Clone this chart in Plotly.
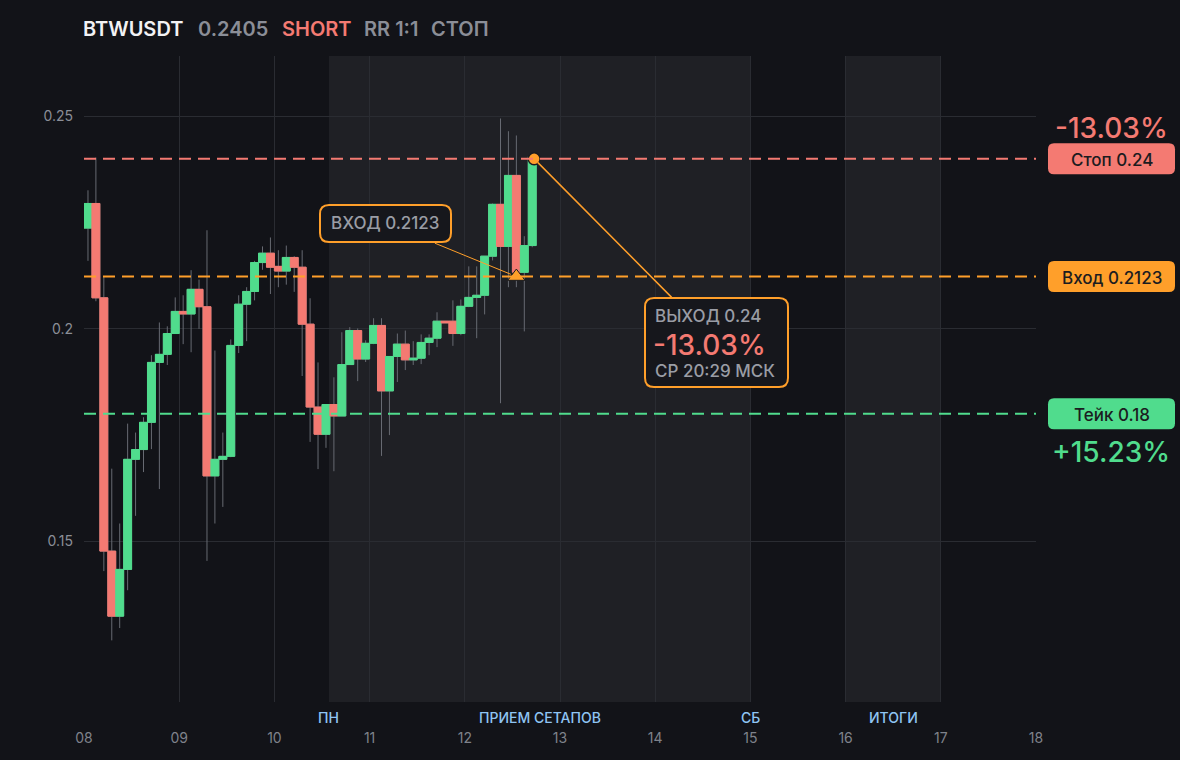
import pandas as pd
import plotly.graph_objects as go

# ---------------- data ----------------
SYMBOL = "BTWUSDT"
LAST_PRICE = "0.2405"
SIDE = "SHORT"
RR_TEXT = "RR 1:1"
RESULT = "СТОП"

# 2-hour candles (centre times), 8 Nov 01:00 UTC onward
candle_times = pd.date_range("2025-11-08 01:00", periods=57, freq="2h")
opens = [0.2237, 0.2295, 0.2073, 0.1477, 0.1324, 0.1434, 0.1693, 0.1716, 0.1780, 0.1921,
         0.1940, 0.1989, 0.2041, 0.2035, 0.2093, 0.2052, 0.1654, 0.1693, 0.1700, 0.1961,
         0.2058, 0.2088, 0.2156, 0.2178, 0.2147, 0.2136, 0.2168, 0.2145, 0.2011, 0.1816,
         0.1752, 0.1822, 0.1795, 0.1916, 0.1996, 0.1929, 0.1966, 0.2008, 0.1854, 0.1935,
         0.1964, 0.1927, 0.1931, 0.1968, 0.1978, 0.2018, 0.2018, 0.1989, 0.2053, 0.2074,
         0.2079, 0.2171, 0.2293, 0.2194, 0.2361, 0.2133, 0.2196]
highs = [0.2326, 0.2403, 0.2122, 0.1671, 0.1542, 0.1777, 0.1756, 0.1792, 0.1938, 0.2015,
         0.2006, 0.2074, 0.2079, 0.2138, 0.2116, 0.2232, 0.1949, 0.1756, 0.1975, 0.2079,
         0.2098, 0.2160, 0.2194, 0.2215, 0.2185, 0.2196, 0.2171, 0.2185, 0.2072, 0.1921,
         0.1822, 0.1886, 0.1992, 0.2004, 0.2001, 0.1973, 0.2025, 0.2025, 0.1935, 0.1989,
         0.1996, 0.1971, 0.1987, 0.1987, 0.2039, 0.2018, 0.2067, 0.2069, 0.2147, 0.2147,
         0.2171, 0.2295, 0.2495, 0.2465, 0.2455, 0.2218, 0.2405]
lows = [0.2160, 0.2065, 0.1430, 0.1267, 0.1296, 0.1385, 0.1560, 0.1663, 0.1717, 0.1623,
        0.1915, 0.1988, 0.1964, 0.1945, 0.2000, 0.1454, 0.1542, 0.1581, 0.1698, 0.1943,
        0.1971, 0.2067, 0.2139, 0.2082, 0.2098, 0.2104, 0.2087, 0.1889, 0.1734, 0.1670,
        0.1720, 0.1665, 0.1795, 0.1915, 0.1877, 0.1922, 0.1964, 0.1701, 0.1750, 0.1875,
        0.1903, 0.1915, 0.1917, 0.1938, 0.1957, 0.2014, 0.1960, 0.1985, 0.2051, 0.1978,
        0.2034, 0.2161, 0.1825, 0.2098, 0.2098, 0.1994, 0.2192]
closes = [0.2295, 0.2073, 0.1477, 0.1324, 0.1434, 0.1693, 0.1716, 0.1780, 0.1921, 0.1940,
          0.1989, 0.2041, 0.2035, 0.2093, 0.2052, 0.1654, 0.1693, 0.1700, 0.1961, 0.2058,
          0.2088, 0.2156, 0.2178, 0.2145, 0.2136, 0.2168, 0.2145, 0.2011, 0.1816, 0.1752,
          0.1822, 0.1795, 0.1916, 0.1996, 0.1929, 0.1966, 0.2008, 0.1854, 0.1935, 0.1964,
          0.1927, 0.1931, 0.1968, 0.1978, 0.2018, 0.2014, 0.1989, 0.2053, 0.2074, 0.2079,
          0.2171, 0.2293, 0.2194, 0.2361, 0.2133, 0.2196, 0.2405]

STOP = 0.24
ENTRY = 0.2123
TAKE = 0.18
STOP_PCT = "-13.03%"
TAKE_PCT = "+15.23%"
ENTRY_TIME = "2025-11-12 13:00"
EXIT_TIME = "2025-11-12 17:29"
EXIT_PRICE = 0.24
EXIT_PCT = "-13.03%"
EXIT_CLOCK = "СР 20:29 МСК"

X_RANGE = ["2025-11-08 00:00", "2025-11-18 00:00"]
Y_RANGE = [0.1122, 0.2642]
Y_TICKS = [0.15, 0.2, 0.25]

SETUP_BAND = ("2025-11-10 13:45", "2025-11-15 00:00")
RESULT_BAND = ("2025-11-16 00:00", "2025-11-17 00:00")
SETUP_START_LABEL = "ПН"
SETUP_LABEL = "ПРИЕМ СЕТАПОВ"
SETUP_END_LABEL = "СБ"
RESULT_LABEL = "ИТОГИ"

# ---------------- style ----------------
W, H = 1180, 760
PL, PR, PT, PB = 84, 1036, 56, 702
BG = "#121318"
BAND = "#1f2025"
GRID = "#2a2c32"
RED = "#f47a72"
GREEN = "#50dc8d"
ORANGE = "#ff9f2a"
GREY = "#8b8e97"
WICK = "#676a72"
LBLUE = "#8fc5f3"
FONT = "Inter"


def px(x):
    return (x - PL) / (PR - PL)


def py(y):
    return (PB - y) / (PB - PT)


def price_to_pix(p):
    return PT + (Y_RANGE[1] - p) / (Y_RANGE[1] - Y_RANGE[0]) * (PB - PT)


def mid(a, b):
    ta, tb = pd.Timestamp(a), pd.Timestamp(b)
    return ta + (tb - ta) / 2


def rounded_rect(x0, y0, x1, y1, r):
    # pixel coordinates (y down) -> paper path
    X0, X1 = px(x0), px(x1)
    Yt, Yb = py(y0), py(y1)
    rx, ry = r / (PR - PL), r / (PB - PT)
    return (f"M {X0+rx},{Yt} L {X1-rx},{Yt} Q {X1},{Yt} {X1},{Yt-ry} "
            f"L {X1},{Yb+ry} Q {X1},{Yb} {X1-rx},{Yb} L {X0+rx},{Yb} "
            f"Q {X0},{Yb} {X0},{Yb+ry} L {X0},{Yt-ry} Q {X0},{Yt} {X0+rx},{Yt} Z")


fig = go.Figure()

body_hi = [max(o, c) for o, c in zip(opens, closes)]
body_lo = [min(o, c) for o, c in zip(opens, closes)]

# wicks (grey)
fig.add_trace(go.Candlestick(
    x=candle_times, open=opens, high=highs, low=lows, close=closes,
    increasing=dict(line=dict(color=WICK, width=1), fillcolor=GREEN),
    decreasing=dict(line=dict(color=WICK, width=1), fillcolor=RED),
    whiskerwidth=0, hoverinfo="skip", showlegend=False,
))
# coloured bodies
fig.add_trace(go.Candlestick(
    x=candle_times, open=opens, high=body_hi, low=body_lo, close=closes,
    increasing=dict(line=dict(color=GREEN, width=1), fillcolor=GREEN),
    decreasing=dict(line=dict(color=RED, width=1), fillcolor=RED),
    whiskerwidth=0, showlegend=False,
))

# entry / exit markers
fig.add_trace(go.Scatter(
    x=[pd.Timestamp(ENTRY_TIME)], y=[ENTRY], mode="markers",
    marker=dict(symbol="triangle-up", size=15, color=ORANGE, line=dict(color="#1a1b20", width=1)),
    showlegend=False, hoverinfo="skip",
))
fig.add_trace(go.Scatter(
    x=[pd.Timestamp(EXIT_TIME)], y=[EXIT_PRICE], mode="markers",
    marker=dict(symbol="circle", size=12, color=ORANGE, line=dict(color="#1a1b20", width=1.5)),
    showlegend=False, hoverinfo="skip",
))

shapes = []
# session bands
for b0, b1 in (SETUP_BAND, RESULT_BAND):
    shapes.append(dict(type="rect", xref="x", yref="paper", x0=b0, x1=b1, y0=0, y1=1,
                       fillcolor=BAND, line=dict(width=0), layer="below"))
# level lines
for lvl, col in ((STOP, RED), (ENTRY, ORANGE), (TAKE, GREEN)):
    shapes.append(dict(type="line", xref="paper", yref="y", x0=0, x1=1, y0=lvl, y1=lvl,
                       line=dict(color=col, width=2, dash="12px,7px"), layer="above"))

# right-side level badges
badge_x0, badge_x1 = 1048, 1175
for lvl, col in ((STOP, RED), (ENTRY, ORANGE), (TAKE, GREEN)):
    cy = price_to_pix(lvl)
    shapes.append(dict(type="path", xref="paper", yref="paper",
                       path=rounded_rect(badge_x0, cy - 15.5, badge_x1, cy + 15.5, 6),
                       fillcolor=col, line=dict(width=0)))

# entry / exit callout boxes
shapes.append(dict(type="path", xref="paper", yref="paper",
                   path=rounded_rect(320, 205, 451, 242, 9),
                   fillcolor="#16171c", line=dict(color=ORANGE, width=2)))
shapes.append(dict(type="path", xref="paper", yref="paper",
                   path=rounded_rect(645, 298, 788, 387, 9),
                   fillcolor="#16171c", line=dict(color=ORANGE, width=2)))

annotations = []
# title row
for xpos, txt, col in ((81, SYMBOL, "#f2f2f4"), (196, LAST_PRICE, GREY), (280, SIDE, RED),
                       (362, RR_TEXT, GREY), (429, RESULT, GREY)):
    annotations.append(dict(xref="paper", yref="paper", x=px(xpos), y=py(29), text=txt,
                            showarrow=False, xanchor="left", yanchor="middle",
                            font=dict(family=FONT, size=20, color=col, weight=600)))

# right badges text
for lvl, txt in ((STOP, f"Стоп {STOP:g}"), (ENTRY, f"Вход {ENTRY:g}"), (TAKE, f"Тейк {TAKE:g}")):
    annotations.append(dict(xref="paper", yref="paper", x=px((badge_x0 + badge_x1) / 2),
                            y=py(price_to_pix(lvl) + 1), text=txt, showarrow=False,
                            xanchor="center", yanchor="middle",
                            font=dict(family=FONT, size=17, color="#1b1c20", weight=500)))
annotations.append(dict(xref="paper", yref="paper", x=px(1111), y=py(price_to_pix(STOP) - 31),
                        text=STOP_PCT, showarrow=False, xanchor="center", yanchor="middle",
                        font=dict(family=FONT, size=28, color=RED, weight=500)))
annotations.append(dict(xref="paper", yref="paper", x=px(1111), y=py(price_to_pix(TAKE) + 38),
                        text=TAKE_PCT, showarrow=False, xanchor="center", yanchor="middle",
                        font=dict(family=FONT, size=28, color=GREEN, weight=500)))

# callout texts
annotations.append(dict(xref="paper", yref="paper", x=px(385.5), y=py(223), text=f"ВХОД {ENTRY:g}",
                        showarrow=False, xanchor="center", yanchor="middle",
                        font=dict(family=FONT, size=17, color="#9a9da5", weight=500)))
annotations.append(dict(xref="paper", yref="paper", x=px(653), y=py(316), text=f"ВЫХОД {EXIT_PRICE:g}",
                        showarrow=False, xanchor="left", yanchor="middle",
                        font=dict(family=FONT, size=17, color="#9a9da5", weight=500)))
annotations.append(dict(xref="paper", yref="paper", x=px(651), y=py(345), text=EXIT_PCT,
                        showarrow=False, xanchor="left", yanchor="middle",
                        font=dict(family=FONT, size=28, color=RED, weight=500)))
annotations.append(dict(xref="paper", yref="paper", x=px(653), y=py(371), text=EXIT_CLOCK,
                        showarrow=False, xanchor="left", yanchor="middle",
                        font=dict(family=FONT, size=17, color="#9a9da5", weight=500)))

# leader lines (arrow without head, from marker to callout)
annotations.append(dict(x=pd.Timestamp(ENTRY_TIME), y=ENTRY, xref="x", yref="y", text="",
                        showarrow=True, arrowhead=0, arrowwidth=1, arrowcolor=ORANGE,
                        axref="pixel", ayref="pixel", ax=-83, ay=-34, standoff=6, startstandoff=0))
annotations.append(dict(x=pd.Timestamp(EXIT_TIME), y=EXIT_PRICE, xref="x", yref="y", text="",
                        showarrow=True, arrowhead=0, arrowwidth=1.5, arrowcolor=ORANGE,
                        axref="pixel", ayref="pixel", ax=139, ay=140, standoff=5, startstandoff=0))

# band labels under plot
band_lbl_font = dict(family=FONT, size=14, color=LBLUE, weight=500)
for xval, txt in ((pd.Timestamp(SETUP_BAND[0]), SETUP_START_LABEL),
                  (mid(*SETUP_BAND), SETUP_LABEL),
                  (pd.Timestamp(SETUP_BAND[1]), SETUP_END_LABEL),
                  (mid(*RESULT_BAND), RESULT_LABEL)):
    annotations.append(dict(xref="x", yref="paper", x=xval, y=py(717), text=txt,
                            showarrow=False, xanchor="center", yanchor="middle",
                            font=band_lbl_font))

fig.update_layout(
    width=W, height=H,
    margin=dict(l=PL, r=W - PR, t=PT, b=H - PB, pad=0),
    paper_bgcolor=BG, plot_bgcolor=BG,
    font=dict(family=FONT, color=GREY),
    boxgap=0, boxgroupgap=0,
    shapes=shapes, annotations=annotations,
    showlegend=False,
    hovermode=False,
)
fig.update_xaxes(
    type="date", range=X_RANGE, rangeslider=dict(visible=False),
    tickformat="%d", dtick=86400000, tick0="2025-11-08",
    showgrid=True, gridcolor=GRID, gridwidth=1, zeroline=False, showline=False,
    ticks="", ticklabelstandoff=26,
    tickfont=dict(family=FONT, size=14, color="#7f828b"),
)
fig.update_yaxes(
    range=Y_RANGE, tickvals=Y_TICKS, ticktext=[f"{v:g}" for v in Y_TICKS],
    showgrid=True, gridcolor=GRID, gridwidth=1, zeroline=False, showline=False,
    ticks="", ticklabelstandoff=10,
    tickfont=dict(family=FONT, size=14, color="#8b8e97"),
)

fig.write_html(
    "out.html",
    config={"displayModeBar": False},
    post_script="document.body.style.margin='0';document.body.style.background='#121318';",
)
